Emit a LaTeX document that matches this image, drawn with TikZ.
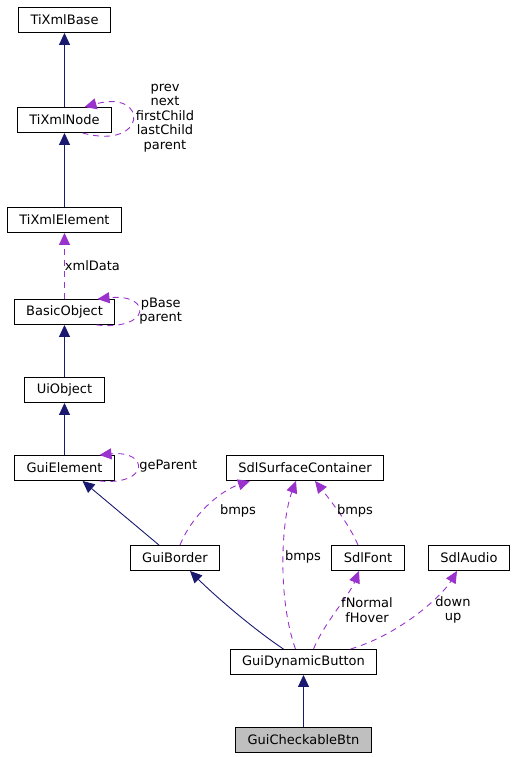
\documentclass[tikz,border=0pt]{standalone}
\usepackage{fontspec}
\setmainfont{DejaVu Sans}
\usetikzlibrary{arrows.meta}
\definecolor{midnight}{HTML}{191970}
\definecolor{orchid}{HTML}{9A32CD}

\begin{document}
\begin{tikzpicture}[x=1pt, y=-1pt, font=\fontsize{13}{14.5}\selectfont]
        \tikzstyle{cls}=[draw, rectangle, line width=0.9pt, minimum height=25pt, inner xsep=12pt, inner ysep=0pt]
        \tikzstyle{inh}=[draw=midnight, line width=0.9pt, -{Triangle[length=12pt,width=11pt]}]
        \tikzstyle{use}=[draw=orchid, line width=0.9pt, dash pattern=on 6pt off 5pt, -{Triangle[length=12pt,width=11pt]}]
        \tikzstyle{lbl}=[align=center, inner sep=0pt, text=black]
        \useasboundingbox (0,0) rectangle (515,757);
        % classes
        \node[cls] (xbase) at (64.5,20) {TiXmlBase};
        \node[cls] (xnode) at (64.5,120) {TiXmlNode};
        \node[cls] (xelem) at (64.5,220) {TiXmlElement};
        \node[cls] (bobj) at (64.5,312) {BasicObject};
        \node[cls] (uiobj) at (64.5,390) {UiObject};
        \node[cls] (guielem) at (64.5,468) {GuiElement};
        \node[cls] (surfc) at (305,468) {SdlSurfaceContainer};
        \node[cls] (guibord) at (175,558) {GuiBorder};
        \node[cls] (sdlfont) at (368,558) {SdlFont};
        \node[cls] (sdlaudio) at (469,558) {SdlAudio};
        \node[cls] (dynbtn) at (303.5,662) {GuiDynamicButton};
        \node[cls, fill=gray!50] (checkbtn) at (303.5,740) {GuiCheckableBtn};
        % inheritance
        \draw[inh] (xnode) -- (xbase);
        \draw[inh] (xelem) -- (xnode);
        \draw[inh] (uiobj) -- (bobj);
        \draw[inh] (guielem) -- (uiobj);
        \draw[inh] ([xshift=-16pt]guibord.north) -- ([xshift=18pt]guielem.south);
        \draw[inh] ([xshift=-20pt]dynbtn.north) .. controls +(-30,-20) and +(25,25) .. ([xshift=15pt]guibord.south);
        \draw[inh] (checkbtn) -- (dynbtn);
        % usage
        \draw[use] ([xshift=18pt]xnode.south) .. controls +(65,18) and +(65,-18) .. ([xshift=20pt]xnode.north) node[lbl] at (165,118) {prev\\next\\firstChild\\lastChild\\parent};
        \draw[use] (bobj) -- node[lbl, right] {xmlData} (xelem);
        \draw[use] ([xshift=32pt]bobj.south) .. controls +(55,6) and +(55,-6) .. ([xshift=33pt]bobj.north) node[lbl, anchor=west] at (139,311) {pBase\\parent};
        \draw[use] ([xshift=35pt]guielem.south) .. controls +(50,5) and +(50,-5) .. ([xshift=35pt]guielem.north) node[lbl, anchor=west] at (139,466) {geParent};
        \draw[use] ([xshift=5pt]guibord.north) .. controls +(12,-30) and +(-30,10) .. ([xshift=-55pt]surfc.south) node[lbl] at (238,511) {bmps};
        \draw[use] ([xshift=-8pt]dynbtn.north) .. controls +(-18,-50) and +(-15,40) .. ([xshift=-9pt]surfc.south) node[lbl] at (303,557) {bmps};
        \draw[use] ([xshift=-10pt]sdlfont.north) .. controls +(-8,-20) and +(12,15) .. ([xshift=10pt]surfc.south) node[lbl] at (355,511) {bmps};
        \draw[use] ([xshift=10pt]dynbtn.north) .. controls +(10,-25) and +(-10,25) .. ([xshift=-9pt]sdlfont.south) node[lbl] at (367,610) {fNormal\\fHover};
        \draw[use] ([xshift=47pt]dynbtn.north) .. controls +(50,-15) and +(-15,25) .. ([xshift=-12pt]sdlaudio.south) node[lbl] at (453,610) {down\\up};
    \end{tikzpicture}
\end{document}
